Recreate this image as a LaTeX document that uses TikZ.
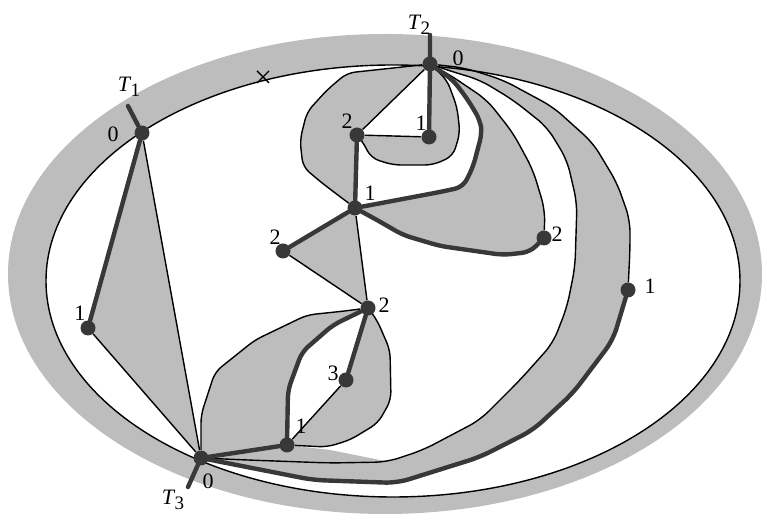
\documentclass[tikz,border=0pt]{standalone}
\usepackage{fontspec}
\setmainfont{Liberation Serif}
\usetikzlibrary{backgrounds}
\tikzset{
  vtx/.style={circle,fill=black!78,minimum size=7.5pt,inner sep=0pt},
  heavy/.style={line width=2.2pt,draw=black!78,line join=round,line cap=round},
  light/.style={line width=0.7pt,draw=black,line join=round},
  grayreg/.style={fill=black!26},
  lbl/.style={font=\fontsize{11}{13}\selectfont,inner sep=0pt},
  tlbl/.style={font=\fontsize{11}{13}\selectfont\itshape,inner sep=0pt}
}
\newcommand{\tname}[1]{T\kern0.3pt\raisebox{-0.45ex}{\upshape\fontsize{9.5}{10}\selectfont #1}}

\begin{document}
\begin{tikzpicture}[x=0.5pt,y=-0.5pt]
\useasboundingbox (0,0) rectangle (767,522);
\node[vtx] (a0) at (142,133) {};
\node[vtx] (a1) at (88,328) {};
\node[vtx] (b0) at (430,64) {};
\node[vtx] (b1) at (429,137) {};
\node[vtx] (b2) at (357,135) {};
\node[vtx] (c1) at (355,208) {};
\node[vtx] (c2) at (544,238) {};
\node[vtx] (d2) at (283,251) {};
\node[vtx] (e2) at (368,308) {};
\node[vtx] (e3) at (346,380) {};
\node[vtx] (f1) at (287,445) {};
\node[vtx] (g0) at (201,458) {};
\node[vtx] (h1) at (628,290) {};
\coordinate (t1) at (128,106);
\coordinate (t2) at (430,35);
\coordinate (t3) at (188,487);
\coordinate (cross) at (263,77);

\node[lbl] (la0) at (113,134) {0};
\node[lbl] (la1) at (80,313) {1};
\node[lbl] (lb0) at (458,58) {0};
\node[lbl] (lb1) at (421,123) {1};
\node[lbl] (lb2) at (347,121) {2};
\node[lbl] (lc1) at (370,193) {1};
\node[lbl] (lc2) at (557,234) {2};
\node[lbl] (ld2) at (275,237) {2};
\node[lbl] (le2) at (384,305) {2};
\node[lbl] (le3) at (333,373) {3};
\node[lbl] (lf1) at (301,426) {1};
\node[lbl] (lg0) at (208,481) {0};
\node[lbl] (lh1) at (650,286) {1};
\node[tlbl] (lt1) at (129,87) {\tname{1}};
\node[tlbl] (lt2) at (419,25) {\tname{2}};
\node[tlbl] (lt3) at (173,500) {\tname{3}};

\begin{scope}[on background layer]
\fill[grayreg] (385,274) ellipse [x radius=377,y radius=240];
\fill[white] (393,281) ellipse [x radius=347,y radius=216];
\fill[grayreg] (a0.center) -- (a1.center) -- (g0.center) -- cycle;
\fill[grayreg,rounded corners=4pt] (b0.center) -- (347,73) -- (327,90) -- (307,112) -- (300,140) -- (303,167) -- (322,183) -- (c1.center) -- (b2.center) -- cycle;
\fill[grayreg,rounded corners=4pt] (b2.center) -- (363,142) -- (371,158) -- (393,165) -- (433,165) -- (453,156) -- (460,133) -- (457,107) -- (447,80) -- (b0.center) -- (b1.center) -- cycle;
\fill[grayreg,rounded corners=4pt] (c1.center) -- (440,192) -- (463,187) -- (473,167) -- (482,133) -- (480,120) -- (468,100) -- (453,80) -- (b0.center) -- (450,75) -- (487,100) -- (513,133) -- (533,170) -- (545,210) -- (c2.center) -- (530,252) -- (503,255) -- (440,246) -- (403,235) -- (377,220) -- cycle;
\fill[grayreg] (c1.center) -- (d2.center) -- (e2.center) -- cycle;
\fill[grayreg,rounded corners=4pt] (g0.center) -- (201,415) -- (215,372) -- (255,340) -- (307,315) -- (345,311) -- (e2.center) -- (333,325) -- (302,352) -- (288,390) -- (f1.center) -- cycle;
\fill[grayreg,rounded corners=4pt] (e2.center) -- (377,320) -- (390,350) -- (391,400) -- (378,423) -- (350,440) -- (327,447) -- (f1.center) -- (e3.center) -- cycle;
\fill[grayreg] (g0.center) -- (f1.center) -- (330,450) -- (390,462) -- (330,463) -- (247,460) -- cycle;
\fill[grayreg,rounded corners=6pt] (g0.center) -- (247,460) -- (330,463) -- (387,462) -- (423,450) -- (480,420) -- (520,380) -- (553,343) -- (567,307) -- (575,267) -- (577,203) -- (567,160) -- (547,127) -- (513,100) -- (480,80) -- (447,70) -- (b0.center) -- (465,68) -- (503,80) -- (553,107) -- (593,143) -- (617,183) -- (630,220) -- (630,250) -- (h1.center) -- (613,340) -- (573,393) -- (533,430) -- (480,457) -- (397,483) -- (313,480) -- cycle;

\draw[light] (393,281) ellipse [x radius=347,y radius=216];
\draw[light] ([shift={(-6,-6)}]cross) -- ([shift={(6,6)}]cross);
\draw[light] ([shift={(-6,6)}]cross) -- ([shift={(6,-6)}]cross);
\draw[light] (a0) -- (g0);
\draw[light] (a1) -- (g0);
\draw[light] (b0) -- (b2) -- (b1);
\draw[light,rounded corners=4pt] (b0) -- (347,73) -- (327,90) -- (307,112) -- (300,140) -- (303,167) -- (322,183) -- (c1);
\draw[light,rounded corners=4pt] (b2) -- (363,142) -- (371,158) -- (393,165) -- (433,165) -- (453,156) -- (460,133) -- (457,107) -- (447,80) -- (b0);
\draw[light,rounded corners=6pt] (c2) -- (545,210) -- (533,170) -- (513,133) -- (487,100) -- (450,75) -- (b0);
\draw[light,rounded corners=6pt] (g0) -- (247,460) -- (330,463) -- (387,462) -- (423,450) -- (480,420) -- (520,380) -- (553,343) -- (567,307) -- (575,267) -- (577,203) -- (567,160) -- (547,127) -- (513,100) -- (480,80) -- (447,70) -- (b0);
\draw[light,rounded corners=6pt] (h1) -- (630,250) -- (630,220) -- (617,183) -- (593,143) -- (553,107) -- (503,80) -- (465,68) -- (b0);
\draw[light] (c1) -- (e2) -- (d2);
\draw[light] (e3) -- (f1);
\draw[light,rounded corners=4pt] (g0) -- (201,415) -- (215,372) -- (255,340) -- (307,315) -- (345,311) -- (e2);
\draw[light,rounded corners=4pt] (e2) -- (377,320) -- (390,350) -- (391,400) -- (378,423) -- (350,440) -- (327,447) -- (f1);

\draw[heavy] (t1) -- (a0) -- (a1);
\draw[heavy] (t2) -- (b0) -- (b1);
\draw[heavy] (t3) -- (g0) -- (f1);
\draw[heavy] (b2) -- (c1) -- (d2);
\draw[heavy] (e2) -- (e3);
\draw[heavy,rounded corners=4pt] (c1) -- (440,192) -- (463,187) -- (473,167) -- (482,133) -- (480,120) -- (468,100) -- (453,80) -- (b0);
\draw[heavy,rounded corners=4pt] (c1) -- (377,220) -- (403,235) -- (440,246) -- (503,255) -- (530,252) -- (c2);
\draw[heavy,rounded corners=4pt] (f1) -- (288,390) -- (302,352) -- (333,325) -- (e2);
\draw[heavy,rounded corners=6pt] (g0) -- (313,480) -- (397,483) -- (480,457) -- (533,430) -- (573,393) -- (613,340) -- (h1);
\end{scope}
\end{tikzpicture}
\end{document}
